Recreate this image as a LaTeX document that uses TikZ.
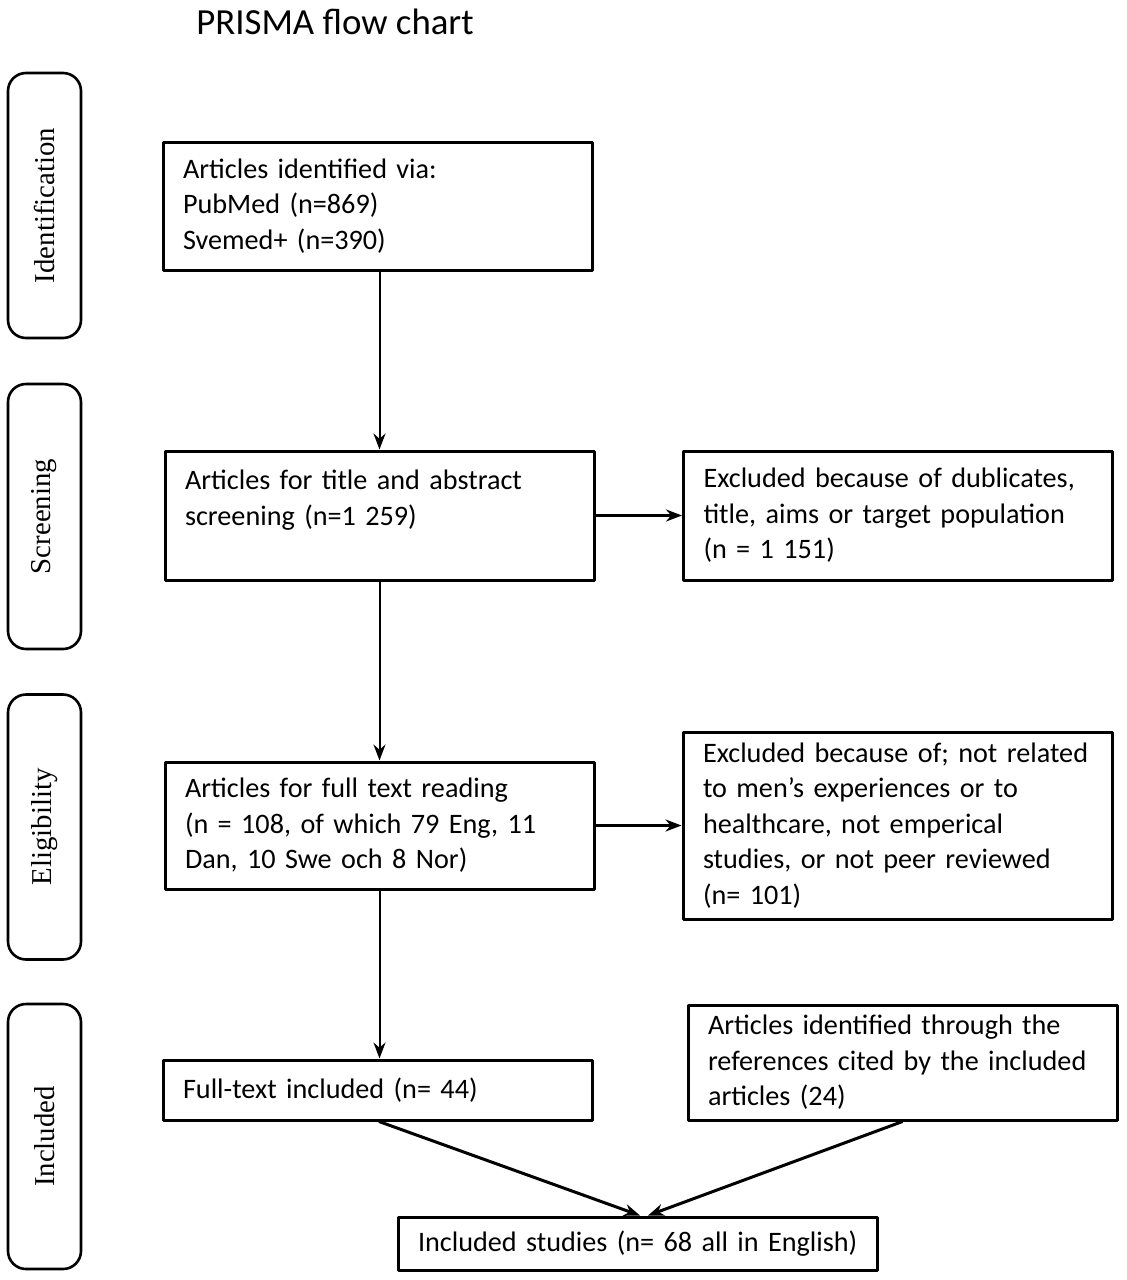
\documentclass[tikz,border=0pt]{standalone}
\usepackage{fontspec}
\setmainfont{Carlito}
\newfontfamily\phasefont{Liberation Serif}
\usetikzlibrary{positioning,arrows.meta}
\tikzset{
  box/.style={draw, line width=1.5pt, rectangle, align=left, inner xsep=8pt, inner ysep=0pt,
    minimum width=214.5pt, text width=198.5pt, font=\fontsize{14.1}{17.75}\selectfont},
  phase/.style={draw, line width=1.3pt, rounded corners=9pt, rotate=90, minimum width=132.5pt,
    minimum height=36.5pt, inner sep=0pt, font=\phasefont\fontsize{14.4}{16}\selectfont},
  flow/.style={->, line width=1pt},
  flowthick/.style={->, line width=1.5pt}
}
\begin{document}
\begin{tikzpicture}[>={Stealth[length=8pt,width=6pt]}, x=0.5pt, y=0.5pt, line join=round]
  \useasboundingbox (0,0) rectangle (1127,-1280);
  % title
  \node[font=\fontsize{18.4}{22}\selectfont] (title) at (335,-22) {PRISMA flow chart};
  % phases on the left
  \node[phase] (ident) at (44.5,-205.5) {Identification};
  \node[phase] (screen) at (44.5,-516.5) {Screening};
  \node[phase] (elig) at (44.5,-827) {Eligibility};
  \node[phase] (incl) at (44.5,-1136.5) {Included};
  % boxes
  \node[box, minimum height=64pt] (found) at (377.5,-206)
    {\hspace*{2pt}Articles identified via:\\\hspace*{2pt}PubMed (n=869)\\\hspace*{2pt}Svemed+ (n=390)};
  \node[box, minimum height=64.5pt] (title-abs) at (379.5,-515.5)
    {\hspace*{2pt}Articles for title and abstract\\\hspace*{2pt}screening (n=1 259)\\\mbox{}};
  \node[box, minimum width=214pt, minimum height=64.5pt] (excl-a) at (898,-515.5)
    {\hspace*{2pt}Excluded because of dublicates,\\\hspace*{2pt}title, aims or target population\\\hspace*{2pt}(n = 1 151)};
  \node[box, minimum height=63.5pt] (fulltext) at (379.5,-825.5)
    {\hspace*{2pt}Articles for full text reading\\\hspace*{2pt}(n = 108, of which 79 Eng, 11\\\hspace*{2pt}Dan, 10 Swe och 8 Nor)};
  \node[box, minimum height=93.5pt] (excl-b) at (897.5,-825.5)
    {\hspace*{2pt}Excluded because of; not related\\\hspace*{2pt}to men’s experiences or to\\\hspace*{2pt}healthcare, not emperical\\\hspace*{2pt}studies, or not peer reviewed\\\hspace*{2pt}(n= 101)};
  \node[box, minimum height=30pt] (ft-incl) at (377.5,-1090)
    {\hspace*{2pt}Full-text included (n= 44)};
  \node[box, minimum height=57.5pt] (refs) at (902.5,-1062.5)
    {\hspace*{2pt}Articles identified through the\\\hspace*{2pt}references cited by the included\\\hspace*{2pt}articles (24)};
  \node[box, minimum width=239.5pt, text width=223.5pt, minimum height=26.5pt] (final) at (637.5,-1243.5)
    {\hspace*{2pt}Included studies (n= 68 all in English)};
  % connectors
  \draw[flow] (found.south -| title-abs.north) -- (title-abs.north);
  \draw[flowthick] (title-abs) -- (excl-a);
  \draw[flow] (title-abs.south) -- (fulltext.north);
  \draw[flowthick] (fulltext) -- (excl-b);
  \draw[flow] (fulltext.south) -- (fulltext.south |- ft-incl.north);
  \draw[flowthick] ([xshift=0.75pt]ft-incl.south) -- ([xshift=1.25pt]final.north);
  \draw[flowthick] (refs.south) -- ([xshift=5.25pt]final.north);
\end{tikzpicture}
\end{document}
